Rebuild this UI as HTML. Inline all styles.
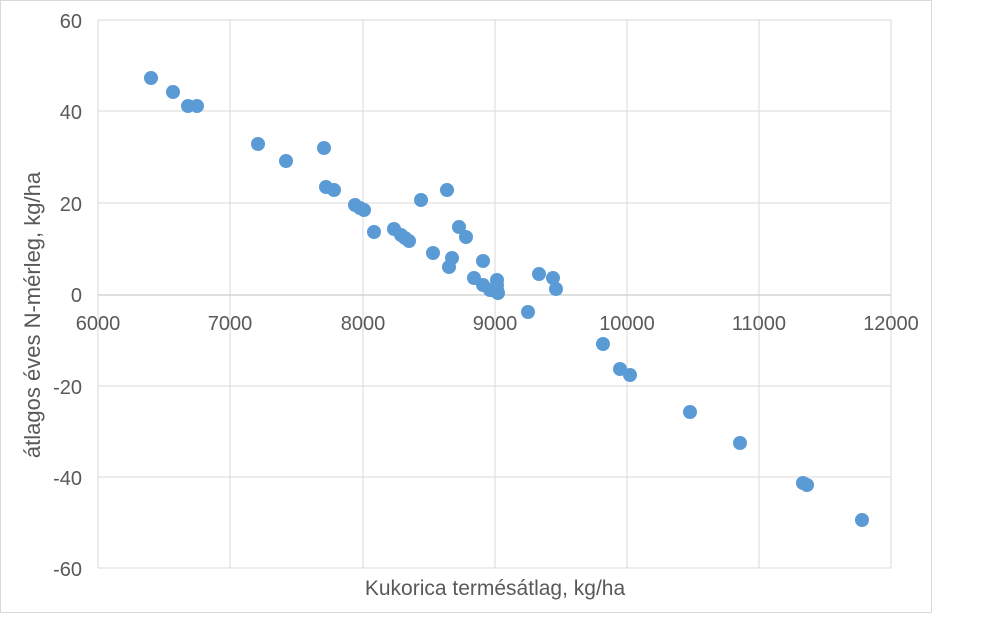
<!DOCTYPE html><html><head><style>body{margin:0;background:#fff}</style></head><body>
<svg width="1000" height="615" xmlns="http://www.w3.org/2000/svg" font-family="Liberation Sans, sans-serif">
<rect x="0.5" y="0.5" width="931" height="612" fill="#fff" stroke="#d9d9d9"/>
<g stroke="#d9d9d9" stroke-width="1">
<line x1="98" y1="20" x2="891" y2="20"/><line x1="98" y1="111" x2="891" y2="111"/><line x1="98" y1="203" x2="891" y2="203"/>
<line x1="98" y1="386" x2="891" y2="386"/><line x1="98" y1="477" x2="891" y2="477"/><line x1="98" y1="568" x2="891" y2="568"/>
<line x1="98" y1="20" x2="98" y2="568"/><line x1="230" y1="20" x2="230" y2="568"/><line x1="363" y1="20" x2="363" y2="568"/>
<line x1="495" y1="20" x2="495" y2="568"/><line x1="627" y1="20" x2="627" y2="568"/><line x1="759" y1="20" x2="759" y2="568"/><line x1="891" y1="20" x2="891" y2="568"/>
</g>
<line x1="98" y1="295" x2="891" y2="295" stroke="#bfbfbf"/>
<g font-size="20" fill="#595959" text-anchor="end">
<text x="82" y="28">60</text><text x="82" y="119">40</text><text x="82" y="211">20</text><text x="82" y="302">0</text>
<text x="82" y="394">-20</text><text x="82" y="485">-40</text><text x="82" y="576">-60</text></g>
<g font-size="20" fill="#595959" text-anchor="middle">
<text x="98" y="330">6000</text><text x="230" y="330">7000</text><text x="363" y="330">8000</text><text x="495" y="330">9000</text>
<text x="627" y="330">10000</text><text x="759" y="330">11000</text><text x="891" y="330">12000</text></g>
<g font-size="21" fill="#595959" text-anchor="middle">
<text x="495" y="595">Kukorica termésátlag, kg/ha</text>
<text transform="translate(40,315) rotate(-90)" font-size="22">átlagos éves N-mérleg, kg/ha</text></g>
<g fill="#5b9bd5">
<circle cx="151" cy="78" r="7"/><circle cx="173" cy="92" r="7"/><circle cx="188" cy="106" r="7"/><circle cx="197" cy="106" r="7"/>
<circle cx="258" cy="144" r="7"/><circle cx="286" cy="161" r="7"/><circle cx="324" cy="148" r="7"/><circle cx="326" cy="187" r="7"/>
<circle cx="334" cy="190" r="7"/><circle cx="355" cy="205" r="7"/><circle cx="360" cy="208" r="7"/><circle cx="364" cy="210" r="7"/>
<circle cx="374" cy="232" r="7"/><circle cx="394" cy="229" r="7"/><circle cx="401" cy="235" r="7"/><circle cx="405" cy="238" r="7"/>
<circle cx="409" cy="241" r="7"/><circle cx="421" cy="200" r="7"/><circle cx="447" cy="190" r="7"/><circle cx="433" cy="253" r="7"/>
<circle cx="452" cy="258" r="7"/><circle cx="449" cy="267" r="7"/><circle cx="459" cy="227" r="7"/><circle cx="466" cy="237" r="7"/>
<circle cx="483" cy="261" r="7"/><circle cx="474" cy="278" r="7"/><circle cx="483" cy="285" r="7"/><circle cx="490" cy="290" r="7"/>
<circle cx="495" cy="291" r="7"/><circle cx="497" cy="290" r="7"/><circle cx="497" cy="285" r="7"/><circle cx="497" cy="280" r="7"/>
<circle cx="498" cy="293" r="7"/><circle cx="528" cy="312" r="7"/><circle cx="539" cy="274" r="7"/><circle cx="553" cy="278" r="7"/>
<circle cx="556" cy="289" r="7"/><circle cx="603" cy="344" r="7"/><circle cx="620" cy="369" r="7"/><circle cx="630" cy="375" r="7"/>
<circle cx="690" cy="412" r="7"/><circle cx="740" cy="443" r="7"/><circle cx="803" cy="483" r="7"/><circle cx="807" cy="485" r="7"/>
<circle cx="862" cy="520" r="7"/></g>
</svg></body></html>
